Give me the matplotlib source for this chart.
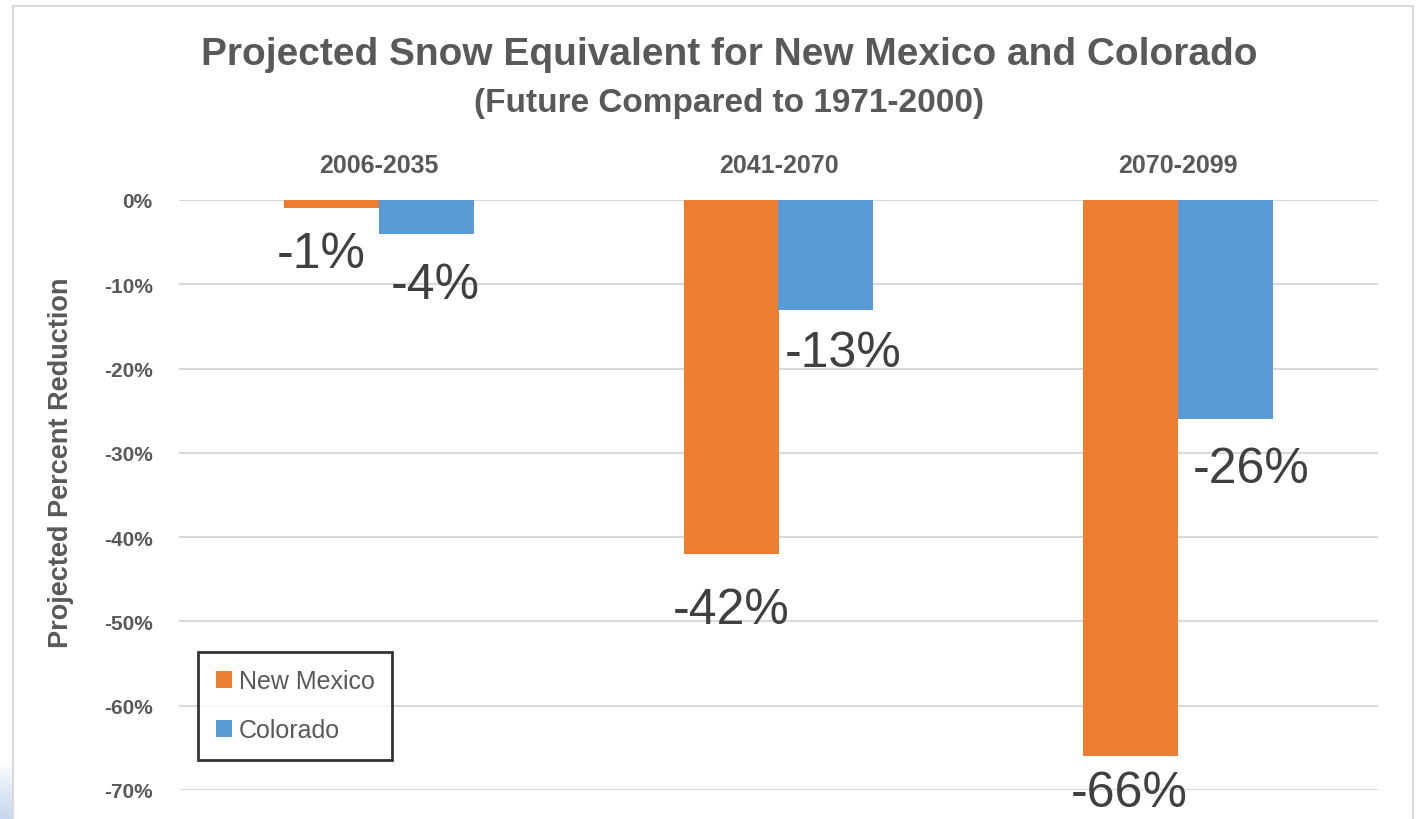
import matplotlib.pyplot as plt
import numpy as np
from matplotlib.patches import Patch, Rectangle
from matplotlib.transforms import blended_transform_factory

plt.rcParams['font.family'] = ['Liberation Sans', 'DejaVu Sans']

periods = ["2006-2035", "2041-2070", "2070-2099"]
new_mexico = [-1, -42, -66]
colorado = [-4, -13, -26]
y_ticks = [0, -10, -20, -30, -40, -50, -60, -70]

orange = "#ED7D31"
blue = "#5B9BD5"
grey_text = "#595959"
grid_grey = "#D9D9D9"

# label placement tweaks (pixels): sideways shift, drop of baseline below bar end
nm_label_shift = [(-10, 59), (0, 69), (-2, 50)]
co_label_shift = [(9, 64), (17, 56), (25, 63)]

W, H = 1420, 820
fig = plt.figure(figsize=(W / 100, H / 100), dpi=100)

# outer chart frame
fig.patches.append(Rectangle((13 / W, -0.05), 1400 / W, 1 - 7 / H + 0.05,
                             transform=fig.transFigure, fill=False,
                             edgecolor=grid_grey, lw=1.5, zorder=5))

ax = fig.add_axes([179 / W, (H - 791) / H, (1378 - 179) / W, (791 - 201) / H])
ax.set_ylim(-70, 0)
ax.set_xlim(-0.5, 2.5)

x = np.arange(len(periods))
bw = 0.2375
nm_bars = ax.bar(x - bw / 2, new_mexico, bw, color=orange, zorder=3)
co_bars = ax.bar(x + bw / 2, colorado, bw, color=blue, zorder=3)

for bars, vals, shifts in [(nm_bars, new_mexico, nm_label_shift),
                           (co_bars, colorado, co_label_shift)]:
    for b, v, (dx, dy) in zip(bars, vals, shifts):
        ax.annotate(f"{v}%", (b.get_x() + b.get_width() / 2, v),
                    xytext=(dx, -dy), textcoords="offset pixels",
                    ha="center", va="baseline", fontsize=36,
                    color="#404040", annotation_clip=False, zorder=4)

ax.set_yticks(y_ticks)
ax.set_yticklabels([f"{t}%" for t in y_ticks], fontsize=15,
                   fontweight="bold", color=grey_text)
ax.tick_params(axis="y", length=0, pad=19)
ax.yaxis.grid(True, color=grid_grey, lw=1.5, zorder=0)
ax.set_xticks([])
for s in ax.spines.values():
    s.set_visible(False)

# period names sit above the zero line
tr = blended_transform_factory(ax.transData, fig.transFigure)
for xi, p in zip(x, periods):
    ax.text(xi, (H - 173) / H, p, transform=tr, ha="center", va="baseline",
            fontsize=18, fontweight="bold", color=grey_text)

fig.text(729 / W, (H - 65) / H, "Projected Snow Equivalent for New Mexico and Colorado",
         ha="center", va="baseline", fontsize=28, fontweight="bold", color=grey_text)
fig.text(729 / W, (H - 112) / H, "(Future Compared to 1971-2000)",
         ha="center", va="baseline", fontsize=24, fontweight="bold", color=grey_text)
fig.text(61 / W, (H - 463) / H, "Projected Percent Reduction", rotation=90,
         ha="center", va="center", fontsize=19.5, fontweight="bold", color=grey_text)

handles = [Patch(facecolor=orange), Patch(facecolor=blue)]
leg = ax.legend(handles, ["New Mexico", "Colorado"], loc="lower left",
                bbox_to_anchor=(198 / W, (H - 761) / H), bbox_transform=fig.transFigure,
                borderaxespad=0, fontsize=18, frameon=True, fancybox=False,
                handlelength=0.64, handleheight=0.64, handletextpad=0.3,
                labelspacing=1.0, borderpad=0.7)
leg.get_frame().set_edgecolor("black")
leg.get_frame().set_linewidth(2)
for t in leg.get_texts():
    t.set_color(grey_text)

# faint blue glow in the lower-left corner, outside the frame
glow = fig.add_axes([0, 0, 12 / W, 56 / H])
ramp = np.linspace(1, 0, 56) ** 0.8
img = np.zeros((56, 1, 4))
img[..., :3] = np.array([0.78, 0.85, 0.94])
img[..., 3] = ramp[:, None]
glow.imshow(img, origin="lower", aspect="auto")
glow.axis("off")

fig.savefig("out.png", dpi=100)
